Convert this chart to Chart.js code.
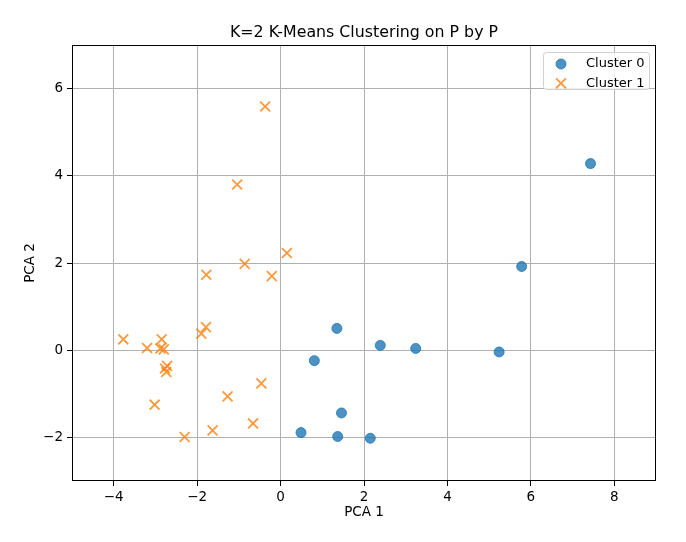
<!DOCTYPE html>
<html>
<head>
<meta charset="utf-8">
<title>K=2 K-Means Clustering on P by P</title>
<script src="https://cdn.jsdelivr.net/npm/chart.js@4.4.1/dist/chart.umd.min.js"></script>
<style>
  html, body { margin: 0; padding: 0; background: #fff; }
  #wrap { width: 686px; height: 542px; }
</style>
</head>
<body>
<div id="wrap"><canvas id="myChart" width="686" height="542"></canvas></div>
<script>
// values
const cluster0X = [7.43, 5.78, 1.35, 2.39, 3.24, 5.24, 0.81, 1.46, 0.49, 1.37, 2.15];
const cluster0Y = [4.28, 1.92, 0.50, 0.11, 0.04, -0.04, -0.24, -1.44, -1.89, -1.98, -2.02];
const cluster1X = [-0.37, -1.04, 0.15, -0.86, -1.78, -0.21, -3.77, -3.20, -2.85, -2.88, -2.80,
                   -1.79, -1.90, -2.72, -2.77, -2.74, -0.46, -1.27, -3.02, -0.66, -1.63, -2.30];
const cluster1Y = [5.59, 3.80, 2.23, 1.98, 1.73, 1.70, 0.25, 0.05, 0.25, 0.04, 0.02,
                   0.53, 0.38, -0.36, -0.42, -0.50, -0.76, -1.06, -1.25, -1.68, -1.84, -1.99];
const seriesNames = ["Cluster 0", "Cluster 1"];
const chartTitle = "K=2 K-Means Clustering on P by P";
const xTicks = [-4, -2, 0, 2, 4, 6, 8];
const yTicks = [-2, 0, 2, 4, 6];
const xRange = [-5, 9];
const yRange = [-3, 7];

const blue = "rgba(31,119,180,0.8)";
const orange = "rgba(255,127,14,0.8)";
const fontFamily = "'DejaVu Sans', sans-serif";

function toPoints(xs, ys) {
    let pts = [];
    for (let i = 0; i < xs.length; i++) pts.push({x: xs[i], y: ys[i]});
    return pts;
}

function minusSign(v) {
    return String(v).replace("-", "\u2212");
}

// full black frame round the plot, matplotlib style
const framePlugin = {
    id: "frame",
    afterDraw(c) {
        const a = c.chartArea;
        const ctx = c.ctx;
        ctx.save();
        ctx.strokeStyle = "#000";
        ctx.lineWidth = 1;
        ctx.strokeRect(Math.round(a.left) + 0.5, Math.round(a.top) + 0.5,
                       Math.round(a.right - a.left) - 1, Math.round(a.bottom - a.top) - 1);
        ctx.restore();
    }
};

// title centred over the plot area (not the whole canvas)
const axesTitlePlugin = {
    id: "axesTitle",
    afterDraw(c) {
        const a = c.chartArea;
        const ctx = c.ctx;
        ctx.save();
        ctx.fillStyle = "#000";
        ctx.font = "15.8px " + fontFamily;
        ctx.textAlign = "center";
        ctx.textBaseline = "alphabetic";
        ctx.fillText(chartTitle, (a.left + a.right) / 2, a.top - 8.5);
        ctx.restore();
    }
};

// legend box inside the plot, upper right
const legendPlugin = {
    id: "innerLegend",
    afterDraw(c) {
        const ctx = c.ctx;
        const a = c.chartArea;
        const boxW = 106, boxH = 37;
        const bx = a.right - 7 - boxW, by = a.top + 7;
        ctx.save();
        ctx.fillStyle = "rgba(255,255,255,0.8)";
        ctx.strokeStyle = "#d0d0d0";
        ctx.lineWidth = 1;
        ctx.beginPath();
        ctx.roundRect(bx + 0.5, by + 0.5, boxW, boxH, 3);
        ctx.fill();
        ctx.stroke();
        c.data.datasets.forEach(function(ds, i) {
            const my = by + 12 + i * 19.3;
            const mx = bx + 18;
            ctx.fillStyle = ds.backgroundColor;
            ctx.strokeStyle = ds.borderColor;
            ctx.lineWidth = ds.pointBorderWidth;
            Chart.helpers.drawPoint(ctx, {
                pointStyle: ds.pointStyle, radius: ds.pointRadius, rotation: 0,
                borderWidth: ds.pointBorderWidth
            }, mx, my);
            ctx.fillStyle = "#000";
            ctx.font = "13px " + fontFamily;
            ctx.textBaseline = "middle";
            ctx.textAlign = "left";
            ctx.fillText(ds.label, bx + 43, my);
        });
        ctx.restore();
    }
};

Chart.defaults.font.family = fontFamily;
Chart.defaults.color = "#000";

let chart = new Chart("myChart", {
    type: "scatter",
    data: {
        datasets: [{
            label: seriesNames[0],
            data: toPoints(cluster0X, cluster0Y),
            pointStyle: "circle",
            pointRadius: 5,
            pointBorderWidth: 1,
            backgroundColor: blue,
            borderColor: blue
        }, {
            label: seriesNames[1],
            data: toPoints(cluster1X, cluster1Y),
            pointStyle: "crossRot",
            pointRadius: 7,
            pointBorderWidth: 1.8,
            backgroundColor: orange,
            borderColor: orange
        }]
    },
    options: {
        responsive: false,
        animation: false,
        devicePixelRatio: 1,
        layout: { padding: { left: 0, right: 30, top: 45, bottom: 0 } },
        plugins: {
            legend: { display: false },
            tooltip: { enabled: false },
            title: { display: false }
        },
        scales: {
            x: {
                type: "linear",
                min: xRange[0],
                max: xRange[1],
                afterBuildTicks(scale) { scale.ticks = xTicks.map(v => ({value: v})); },
                afterFit(scale) { scale.height = 61; },
                ticks: {
                    color: "#000",
                    padding: 3,
                    font: { size: 13.5 },
                    callback: v => minusSign(v)
                },
                grid: { color: "#b0b0b0", lineWidth: 1, tickColor: "#000", tickLength: 5, tickWidth: 1 },
                border: { display: false },
                title: { display: true, text: "PCA 1", color: "#000", font: { size: 13.5 }, padding: { top: 0, bottom: 21 } }
            },
            y: {
                type: "linear",
                min: yRange[0],
                max: yRange[1],
                afterBuildTicks(scale) { scale.ticks = yTicks.map(v => ({value: v})); },
                afterFit(scale) { scale.width = 72; },
                ticks: {
                    color: "#000",
                    padding: 4,
                    font: { size: 13.5 },
                    callback: v => minusSign(v)
                },
                grid: { color: "#b0b0b0", lineWidth: 1, tickColor: "#000", tickLength: 5, tickWidth: 1 },
                border: { display: false },
                title: { display: true, text: "PCA 2", color: "#000", font: { size: 13.5 }, padding: { top: 22, bottom: 0 } }
            }
        }
    },
    plugins: [framePlugin, axesTitlePlugin, legendPlugin]
});
</script>
</body>
</html>
